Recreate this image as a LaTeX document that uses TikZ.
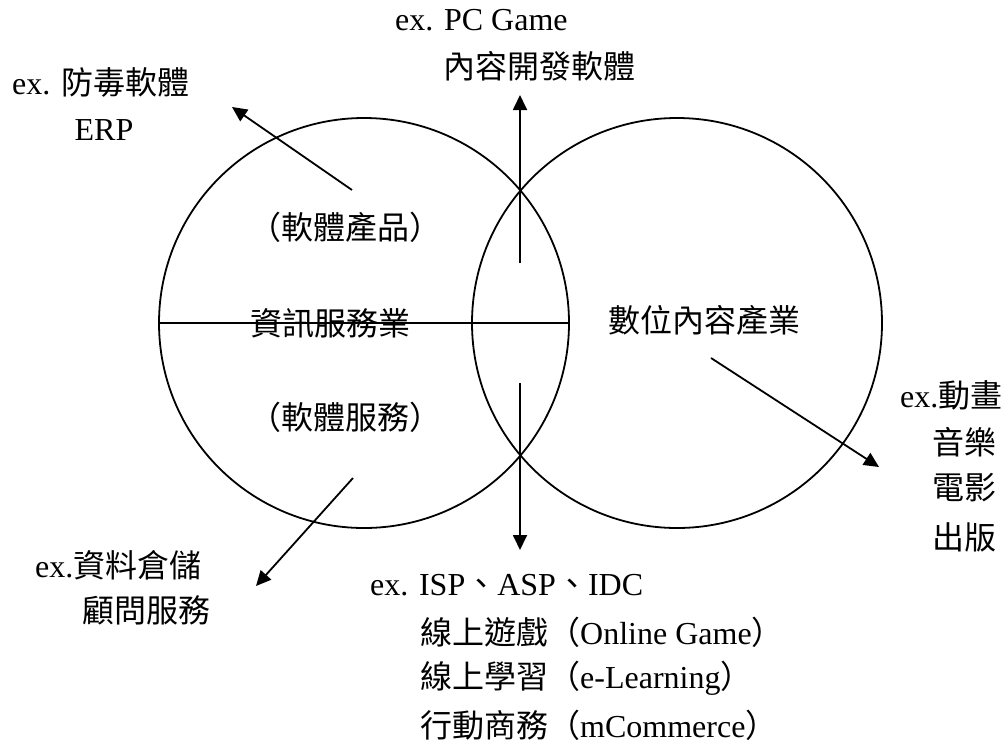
\documentclass[tikz,border=0pt]{standalone}
\usepackage{fontspec}
\setmainfont{Liberation Serif}
\newfontfamily\cjk{Noto Sans CJK TC}
\usetikzlibrary{arrows.meta}
\tikzset{
  lbl/.style={inner sep=0pt, font=\fontsize{32}{40}\selectfont},
  ring/.style={circle, draw, line width=1.8pt, minimum size=410pt, inner sep=0pt},
  conn/.style={line width=1.8pt},
  arr/.style={conn, -{Triangle[length=15pt,width=14pt]}}
}
\begin{document}
\begin{tikzpicture}[x=1pt,y=-1pt]
\useasboundingbox (0,0) rectangle (1003,745);
% circles
\node[ring] (L) at (364,323) {};
\node[ring] (R) at (677,323) {};
% labels
\node[lbl, anchor=west] (tl1) at (12,82) {ex. \cjk 防毒軟體};
\node[lbl] (tl2) at (104,130) {ERP};
\node[lbl, anchor=west] (tc1) at (395,20) {ex. PC Game};
\node[lbl] (tc2) at (539,66) {\cjk 內容開發軟體};
\node[lbl] (sp) at (345,227) {\cjk （軟體產品）};
\node[lbl] (is) at (330,323) {\cjk 資訊服務業};
\node[lbl] (ss) at (345,417) {\cjk （軟體服務）};
\node[lbl] (dc) at (704,320) {\cjk 數位內容產業};
\node[lbl, anchor=west] (r1) at (900,395) {ex.\cjk 動畫};
\node[lbl, anchor=west] (r2) at (932,442) {\cjk 音樂};
\node[lbl, anchor=west] (r3) at (932,488) {\cjk 電影};
\node[lbl, anchor=west] (r4) at (932,537) {\cjk 出版};
\node[lbl, anchor=west] (bl1) at (35,565) {ex.\cjk 資料倉儲};
\node[lbl, anchor=west] (bl2) at (82,610) {\cjk 顧問服務};
\node[lbl, anchor=west] (b1) at (370,585) {ex. ISP{\cjk 、}ASP{\cjk 、}IDC};
\node[lbl, anchor=west] (b2) at (420,632) {{\cjk 線上遊戲（}Online Game{\cjk ）}};
\node[lbl, anchor=west] (b3) at (420,678) {{\cjk 線上學習（}e-Learning{\cjk ）}};
\node[lbl, anchor=west] (b4) at (420,725) {{\cjk 行動商務（}mCommerce{\cjk ）}};
% connector ends
\coordinate (a1s) at (352,190);
\coordinate (a1e) at (232,107);
\coordinate (a2s) at (520,263);
\coordinate (a2e) at (520,95);
\coordinate (a3s) at (520,383);
\coordinate (a3e) at (520,550);
\coordinate (a4s) at (353,478);
\coordinate (a4e) at (256,586);
\coordinate (a5s) at (711,358);
\coordinate (a5e) at (879,467);
% connectors
\draw[conn] (L.west) -- (L.east);
\draw[arr] (a1s) -- (a1e);
\draw[arr] (a2s) -- (a2e);
\draw[arr] (a3s) -- (a3e);
\draw[arr] (a4s) -- (a4e);
\draw[arr] (a5s) -- (a5e);
\end{tikzpicture}
\end{document}
